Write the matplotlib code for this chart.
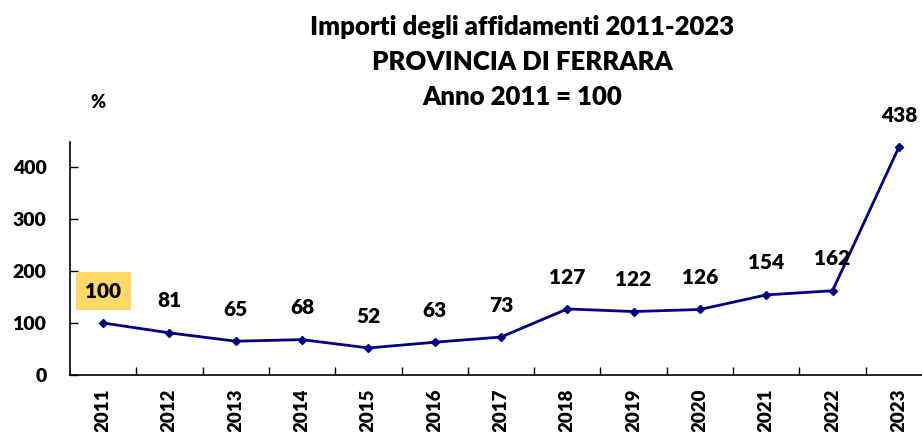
import matplotlib
matplotlib.use("Agg")
import matplotlib.pyplot as plt
import numpy as np

years = ["2011", "2012", "2013", "2014", "2015", "2016", "2017",
         "2018", "2019", "2020", "2021", "2022", "2023"]
values = [100, 81, 65, 68, 52, 63, 73, 127, 122, 126, 154, 162, 438]
title_lines = ["Importi degli affidamenti 2011-2023",
               "PROVINCIA DI FERRARA",
               "Anno 2011 = 100"]

plt.rcParams['font.family'] = ['Lato', 'DejaVu Sans']
WEIGHT = 'heavy'

W, H = 922, 432
fig = plt.figure(figsize=(W / 100, H / 100), dpi=100)
ax_left, ax_right = 70 / W, 932 / W
ax_bottom, ax_top = (H - 375) / H, (H - 142) / H
ax = fig.add_axes([ax_left, ax_bottom, ax_right - ax_left, ax_top - ax_bottom])

x = np.arange(len(years))
ax.plot(x, values, color="#000080", lw=2, marker="D", ms=4.5, zorder=3)

ax.set_xlim(-0.5, len(years) - 0.5)
ax.set_ylim(0, 448)
ax.set_yticks([0, 100, 200, 300, 400])
ax.set_xticks(x)
ax.set_xticklabels(years, rotation=90, fontsize=13.5, fontweight=WEIGHT)
ax.set_xticks(np.arange(len(years) - 1) + 0.5, minor=True)
ax.tick_params(axis='x', which='major', length=0, pad=10)
ax.tick_params(axis='x', which='minor', direction='in', length=6, width=1)
ax.tick_params(axis='y', direction='in', length=6, width=1, labelsize=14, pad=17)
for lbl in ax.get_yticklabels():
    lbl.set_fontweight(WEIGHT)

for s in ("top", "right"):
    ax.spines[s].set_visible(False)
for s in ("left", "bottom"):
    ax.spines[s].set_linewidth(1.2)

for i, v in enumerate(values):
    kw = {}
    if i == 0:
        kw["bbox"] = dict(boxstyle="square,pad=0.45", fc="#FFD966", ec="none")
    ax.annotate(str(v), (i, v), xytext=(0, 23), textcoords="offset points",
                ha="center", va="center", fontsize=15, fontweight=WEIGHT,
                color="black", **kw)

for k, line in enumerate(title_lines):
    fig.text(522 / W, 1 - (27 + 35 * k) / H, line, ha="center", va="center",
             fontsize=18.5, fontweight=WEIGHT)
fig.text(98 / W, 1 - 102 / H, "%", ha="center", va="center",
         fontsize=13, fontweight=WEIGHT)

fig.savefig("out.png", dpi=100)
